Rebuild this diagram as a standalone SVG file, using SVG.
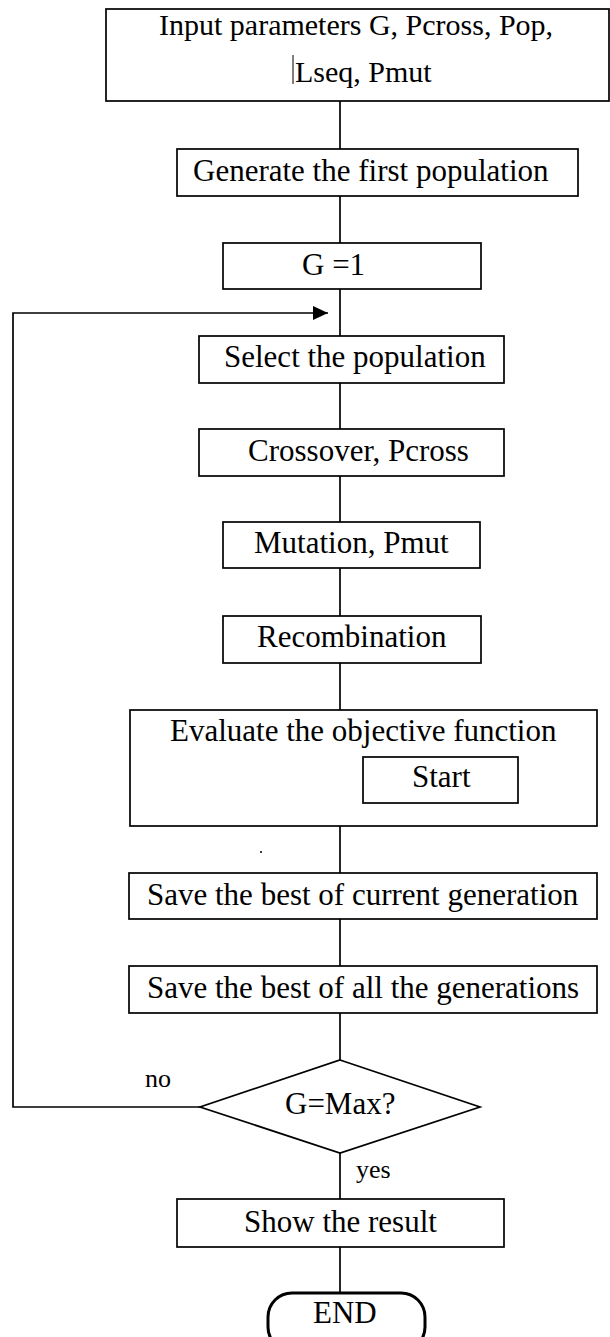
<svg xmlns="http://www.w3.org/2000/svg" width="610" height="1337" viewBox="0 0 610 1337">
  <style>
    .box { fill: #ffffff; stroke: #000000; stroke-width: 1.7; }
    .term { fill: #ffffff; stroke: #000000; stroke-width: 3; }
    .wire { fill: none; stroke: #000000; stroke-width: 1.7; }
    .t { font-family: "Liberation Serif", "Times New Roman", serif; font-size: 31px; fill: #000000; }
    .t30 { font-family: "Liberation Serif", "Times New Roman", serif; font-size: 30px; fill: #000000; }
    .lbl { font-family: "Liberation Serif", "Times New Roman", serif; font-size: 26px; fill: #000000; }
  </style>
  <defs>
    <marker id="arrow" markerUnits="userSpaceOnUse" markerWidth="16" markerHeight="14" refX="15" refY="7" orient="auto">
      <path d="M0,0 L15,7 L0,14 z" fill="#000000"/>
    </marker>
  </defs>
  <rect width="610" height="1337" fill="#ffffff"/>

  <!-- connectors -->
  <g id="connectors">
    <line class="wire" x1="340" y1="101" x2="340" y2="149"/>
    <line class="wire" x1="340" y1="196" x2="340" y2="243"/>
    <line class="wire" x1="340" y1="289" x2="340" y2="336"/>
    <line class="wire" x1="340" y1="383" x2="340" y2="429"/>
    <line class="wire" x1="340" y1="476" x2="340" y2="522"/>
    <line class="wire" x1="340" y1="568" x2="340" y2="616"/>
    <line class="wire" x1="340" y1="663" x2="340" y2="710"/>
    <line class="wire" x1="340" y1="826" x2="340" y2="873"/>
    <line class="wire" x1="340" y1="919" x2="340" y2="966"/>
    <line class="wire" x1="340" y1="1013" x2="340" y2="1060"/>
    <line class="wire" x1="340" y1="1153" x2="340" y2="1199"/>
    <line class="wire" x1="340" y1="1247" x2="340" y2="1293"/>
    <!-- loop back when G is not yet Max -->
    <polyline class="wire" points="200,1107 13,1107 13,313 328,313" marker-end="url(#arrow)"/>
    <text class="lbl" x="145" y="1087">no</text>
    <text class="lbl" x="356" y="1178">yes</text>
  </g>

  <g id="input">
    <rect class="box" x="106" y="9" width="503" height="92"/>
    <text class="t30" x="159" y="35">Input parameters G, Pcross, Pop,</text>
    <line x1="293" y1="55" x2="293" y2="84" stroke="#000000" stroke-width="1"/>
    <text class="t30" x="295" y="82">Lseq, Pmut</text>
  </g>

  <g id="generate">
    <rect class="box" x="177" y="149" width="401" height="47"/>
    <text class="t" x="193" y="181">Generate the first population</text>
  </g>

  <g id="g-init">
    <rect class="box" x="223" y="243" width="258" height="46"/>
    <text class="t" x="302" y="275">G =1</text>
  </g>

  <g id="select">
    <rect class="box" x="199" y="336" width="305" height="47"/>
    <text class="t" x="224" y="367">Select the population</text>
  </g>

  <g id="crossover">
    <rect class="box" x="199" y="429" width="305" height="47"/>
    <text class="t" x="248" y="461">Crossover, Pcross</text>
  </g>

  <g id="mutation">
    <rect class="box" x="223" y="522" width="257" height="46"/>
    <text class="t" x="254" y="553">Mutation, Pmut</text>
  </g>

  <g id="recombination">
    <rect class="box" x="223" y="616" width="258" height="47"/>
    <text class="t" x="257" y="647">Recombination</text>
  </g>

  <g id="evaluate">
    <rect class="box" x="130" y="710" width="467" height="116"/>
    <text class="t" x="170" y="741">Evaluate the objective function</text>
    <g id="start">
      <rect class="box" x="363" y="757" width="155" height="46"/>
      <text class="t" x="412" y="787">Start</text>
    </g>
  </g>

  <circle cx="261" cy="852" r="1" fill="#000000"/>

  <g id="save-current">
    <rect class="box" x="129" y="873" width="468" height="46"/>
    <text class="t" x="147" y="905">Save the best of current generation</text>
  </g>

  <g id="save-all">
    <rect class="box" x="129" y="966" width="468" height="47"/>
    <text class="t" x="147" y="998">Save the best of all the generations</text>
  </g>

  <g id="decision">
    <polygon class="box" points="340,1060 480,1107 340,1153 200,1107"/>
    <text class="t" x="285" y="1114">G=Max?</text>
  </g>

  <g id="show">
    <rect class="box" x="177" y="1199" width="327" height="48"/>
    <text class="t" x="244" y="1232">Show the result</text>
  </g>

  <g id="end">
    <rect class="term" x="268" y="1293" width="157" height="58" rx="24" ry="24"/>
    <text class="t" x="313" y="1323">END</text>
  </g>
</svg>
